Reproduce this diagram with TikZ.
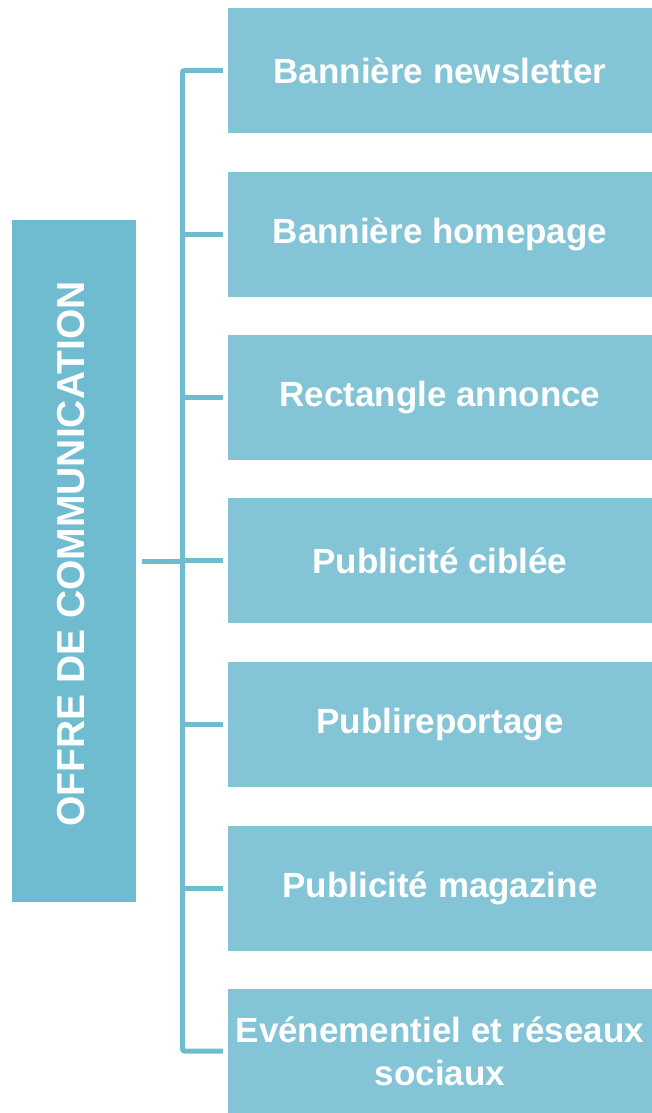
\documentclass[tikz,border=0pt]{standalone}
\usepackage{fontspec}
\setmainfont{Liberation Sans}
\definecolor{leftc}{HTML}{6FBBD0}
\definecolor{boxc}{HTML}{83C4D6}
\begin{document}
\begin{tikzpicture}[x=1pt,y=-1pt,
  leftbox/.style={fill=leftc,draw=none,minimum width=124pt,minimum height=682pt,inner sep=0pt},
  itembox/.style={fill=boxc,draw=none,minimum width=424pt,minimum height=125pt,inner sep=0pt,
    text=white,font=\fontsize{35}{43}\selectfont\bfseries,align=center},
  conn/.style={draw=leftc,line width=5pt}]
\useasboundingbox (0,0) rectangle (652,1113);
\node[leftbox] (L) at (74,561) {};
\node[rotate=90,text=white,font=\fontsize{39}{42}\selectfont\bfseries,inner sep=0pt] (Lt) at (71,554) {OFFRE DE COMMUNICATION};
\node[itembox] (b1) at (440,70.5) {Bannière newsletter};
\node[itembox] (b2) at (440,234) {Bannière homepage};
\node[itembox] (b3) at (440,397.5) {Rectangle annonce};
\node[itembox] (b4) at (440,560.5) {Publicité ciblée};
\node[itembox] (b5) at (440,724.5) {Publireportage};
\node[itembox] (b6) at (440,888) {Publicité magazine};
\node[itembox] (b7) at (440,1051) {Evénementiel et réseaux\\sociaux};
\coordinate (sp) at (182.5,561);
\draw[conn,rounded corners=2pt] ([xshift=-5pt]b1.west) -- (b1.west -| sp) -- (b7.west -| sp) -- ([xshift=-5pt]b7.west);
\foreach \b in {b2,b3,b4,b5,b6}
  \draw[conn] (\b.west -| sp) -- ([xshift=-5pt]\b.west);
\draw[conn] ([xshift=6pt]L.east) -- (sp);
\end{tikzpicture}
\end{document}
